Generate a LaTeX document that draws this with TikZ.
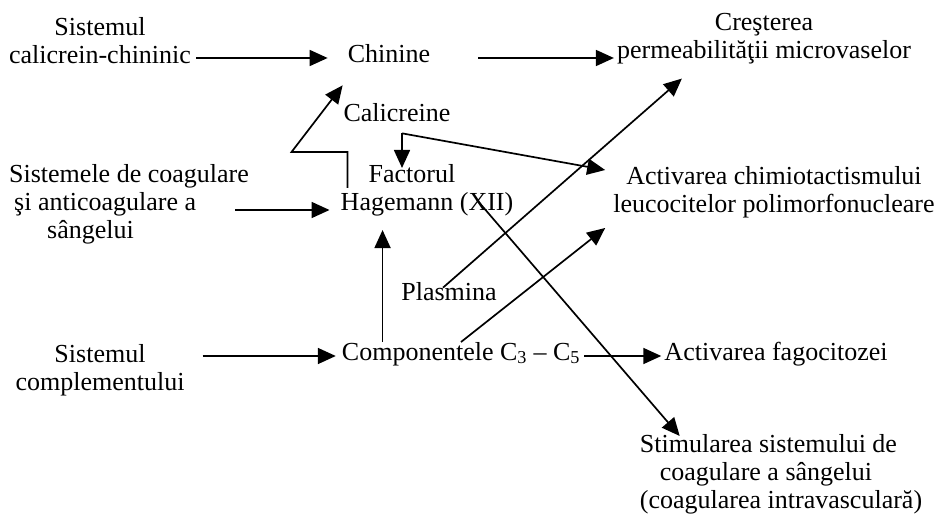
\documentclass[tikz,border=0pt]{standalone}
\usepackage{fontspec}
\setmainfont{Liberation Serif}
\usetikzlibrary{arrows.meta,calc}
\begin{document}
\begin{tikzpicture}[x=1pt, y=-1pt, every node/.style={inner sep=0pt, font=\fontsize{26}{28}\selectfont},
  arr/.style={line width=1.7pt, -{Triangle[length=18pt,width=16pt]}}]
  \useasboundingbox (0,0) rectangle (941,518);
  \node[align=center] (kal) at (100,41) {Sistemul\\calicrein-chininic};
  \node (chin) at (389,54) {Chinine};
  \node[align=center] (cres) at (764,39) {Creşterea\\permeabilităţii microvaselor};
  \node (cal) at (397,113) {Calicreine};
  \node[align=left] (coag) at (129,204) {Sistemele de coagulare\\\hspace*{5pt}şi anticoagulare a\\\hspace*{38pt}sângelui};
  \node[align=center] (fact) at (427,190) {Factorul\hspace*{30pt}\\Hagemann (XII)};
  \node[align=center] (chim) at (774,192) {Activarea chimiotactismului\\leucocitelor polimorfonucleare};
  \node (plas) at (449,292) {Plasmina};
  \node[align=center] (sc) at (100,370) {Sistemul\\complementului};
  \node (comp) at (461,354) {Componentele C\textsubscript{3} – C\textsubscript{5}};
  \node (fag) at (776,354) {Activarea fagocitozei};
  \node[align=left] (stim) at (781,474) {Stimularea sistemului de\\\hspace*{20pt}coagulare a sângelui\\(coagularea intravasculară)};

  \draw[arr] ($(kal.east |- chin.west)+(5,4)$) -- ($(chin.west)+(-20,4)$);
  \draw[arr] ($(chin.east)+(48,4)$) -- ($(cres.west |- chin.east)+(-3,4)$);
  \draw[arr] ($(coag.east)+(-14,6)$) -- ($(fact.west |- coag.east)+(-11,6)$);
  \draw[arr] ($(sc.east |- comp.west)+(18,2)$) -- ($(comp.west)+(-6,2)$);
  \draw[arr] ($(comp.east)+(4,2)$) -- ($(fag.west |- comp.east)+(-3,2)$);
  \draw[arr] ($(fact.south west |- comp.north)+(42,0)$) -- ($(fact.south west)+(42,14)$);
  \draw[arr] ($(fact.west)+(7,-2)$) |- ++(-56,-36) -- ($(chin.south west)+(-5,22)$);
  \coordinate (kc) at ($(cal.south)+(5,11)$);
  \draw[arr] (kc) -- ($(kc |- fact.north)+(0,4)$);
  \draw[arr] (kc) -- ($(chim.west)+(-8,-22)$);
  \draw[arr] ($(plas.north)+(-6,5)$) -- ($(cres.south west)+(65,14)$);
  \draw[arr] (comp.north) -- ($(chim.south west)+(-8,10)$);
  \draw[arr] ($(fact.center)+(50,10)$) -- ($(stim.north west)+(40,2)$);
\end{tikzpicture}
\end{document}
